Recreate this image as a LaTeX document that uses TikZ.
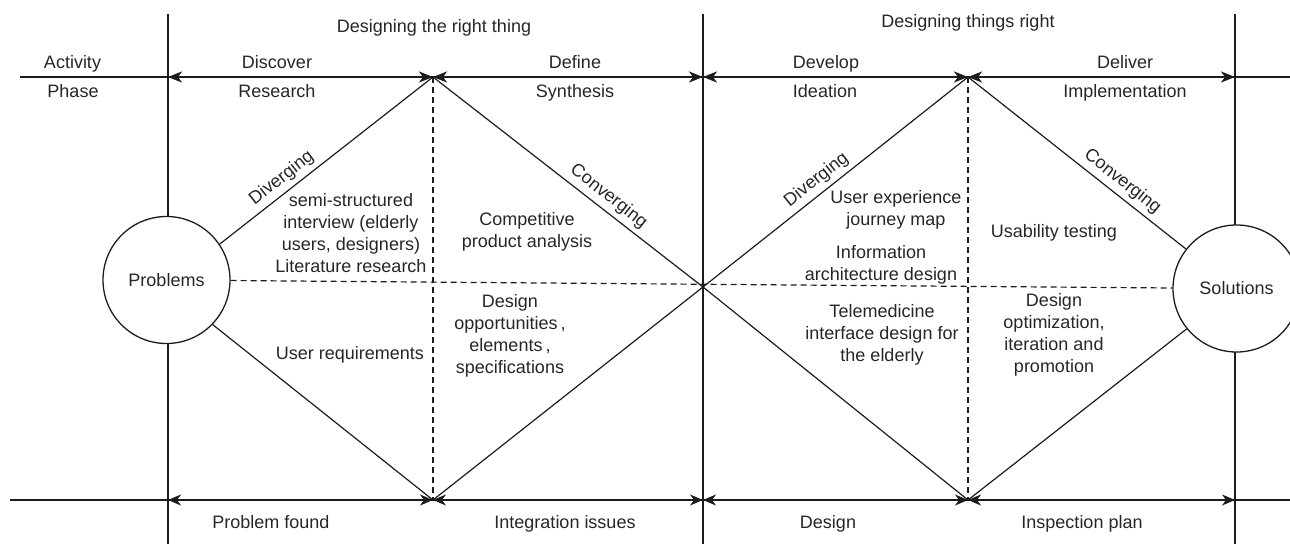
\documentclass[tikz,border=0pt]{standalone}
\usepackage{fontspec}
\setmainfont{Liberation Sans}
\usetikzlibrary{arrows.meta}
\definecolor{ink}{HTML}{1C1C1C}
\definecolor{txtc}{HTML}{262626}
\tikzset{
  txt/.style={font=\fontsize{18}{22}\selectfont, text=txtc, inner sep=0pt},
  block/.style={txt, align=center},
  rim/.style={circle, draw=ink, line width=1.3pt, fill=white, minimum size=127pt, inner sep=0pt, txt},
  thinln/.style={draw=ink, line width=1.2pt},
  dline/.style={draw=ink, line width=1.2pt, dash pattern=on 6pt off 4pt},
  tiptop/.style={Stealth[length=14pt,width=11pt,inset=4pt]},
  toparr/.style={draw=ink, line width=2.2pt, {Stealth[length=14pt,width=11pt,inset=4pt]}-{Stealth[length=14pt,width=11pt,inset=4pt]}},
  botarr/.style={draw=ink, line width=1.3pt, {Stealth[length=13pt,width=11pt,inset=4pt]}-{Stealth[length=13pt,width=11pt,inset=4pt]}},
  slab/.style={txt, sloped, above, inner sep=4.5pt}
}
\begin{document}
\begin{tikzpicture}[x=1pt,y=-1pt]
\useasboundingbox (0,0) rectangle (1290,544);
\clip (0,0) rectangle (1290,544);
% coordinates
\coordinate (L0t) at (168,14);  \coordinate (L0b) at (168,544);
\coordinate (L1t) at (703,14);  \coordinate (L1b) at (703,544);
\coordinate (L2t) at (1235,14); \coordinate (L2b) at (1235,544);
\coordinate (Hs) at (20,77);  \coordinate (He) at (1290,77);
\coordinate (Ks) at (10,500); \coordinate (Ke) at (1290,500);
\coordinate (A0) at (168,77); \coordinate (T1) at (433,77); \coordinate (A2) at (703,77);
\coordinate (T2) at (968,77); \coordinate (A4) at (1235,77);
\coordinate (B0) at (168,500); \coordinate (B1) at (433,500); \coordinate (B2) at (703,500);
\coordinate (B3) at (968,500); \coordinate (B4) at (1235,500);
\coordinate (C) at (703,287);
% frame lines
\draw[thinln] (L0t) -- (L0b);
\draw[thinln] (L1t) -- (L1b);
\draw[thinln] (L2t) -- (L2b);
\draw[thinln] (Hs) -- (He);
\draw[thinln] (Ks) -- (Ke);
% arrows
\draw[toparr] (A0) -- (T1);
\draw[toparr] (T1) -- (A2);
\draw[toparr] (A2) -- (T2);
\draw[toparr] (T2) -- (A4);
\draw[botarr] (B0) -- (B1);
\draw[botarr] (B1) -- (B2);
\draw[botarr] (B2) -- (B3);
\draw[botarr] (B3) -- (B4);
% circles
\node[rim] (Problems) at (166.5,280) {Problems};
\node[rim] (Solutions) at (1236.5,288.5) {Solutions};
% dashed
\draw[dline] (Problems) -- (Solutions);
\draw[dline] (T1) -- (B1);
\draw[dline] (T2) -- (B3);
% diamonds
\draw[thinln] (Problems.34) -- node[slab, pos=0.33] {Diverging} (T1);
\draw[thinln] (T1) -- node[slab, pos=0.62] {Converging} (C);
\draw[thinln] (C) -- (B1);
\draw[thinln] (B1) -- (Problems.-44);
\draw[thinln] (C) -- node[slab, pos=0.46] {Diverging} (T2);
\draw[thinln] (T2) -- node[slab, pos=0.67] {Converging} (Solutions.142);
\draw[thinln] (C) -- (B3);
\draw[thinln] (B3) -- (Solutions.219);
% headings
\node[txt, anchor=base] (h1) at (434,32) {Designing the right thing};
\node[txt, anchor=base] (h2) at (968,27) {Designing things right};
% top labels
\node[txt, anchor=base] (act) at (72.5,68) {Activity};
\node[txt, anchor=base] (pha) at (73,97) {Phase};
\node[txt, anchor=base] (dis) at (277,68) {Discover};
\node[txt, anchor=base] (res) at (277,97) {Research};
\node[txt, anchor=base] (def) at (575,68) {Define};
\node[txt, anchor=base] (syn) at (575,97) {Synthesis};
\node[txt, anchor=base] (dev) at (826,68) {Develop};
\node[txt, anchor=base] (ide) at (825,97) {Ideation};
\node[txt, anchor=base] (del) at (1125,68) {Deliver};
\node[txt, anchor=base] (imp) at (1125,97) {Implementation};
% bottom labels
\node[txt, anchor=base] (pf) at (271,528) {Problem found};
\node[txt, anchor=base] (ii) at (565,528) {Integration issues};
\node[txt, anchor=base] (de) at (828,528) {Design};
\node[txt, anchor=base] (ip) at (1082,528) {Inspection plan};
% blocks
\node[block] (q1) at (351,233) {semi-structured\\interview (elderly\\users, designers)\\Literature research};
\node[block] (q1b) at (350,355) {User requirements};
\node[block] (q2) at (527,232) {Competitive\\product analysis};
\node[block] (q2b) at (510,336) {Design\\opportunities\,,\\elements\,,\\specifications};
\node[block] (q3) at (896,210) {User experience\\journey map};
\node[block] (q3m) at (881,265) {Information\\architecture design};
\node[block] (q3b) at (882,335) {Telemedicine\\interface design for\\the elderly};
\node[block] (q4) at (1054,233) {Usability testing};
\node[block] (q4b) at (1054,335) {Design\\optimization,\\iteration and\\promotion};
\end{tikzpicture}
\end{document}
